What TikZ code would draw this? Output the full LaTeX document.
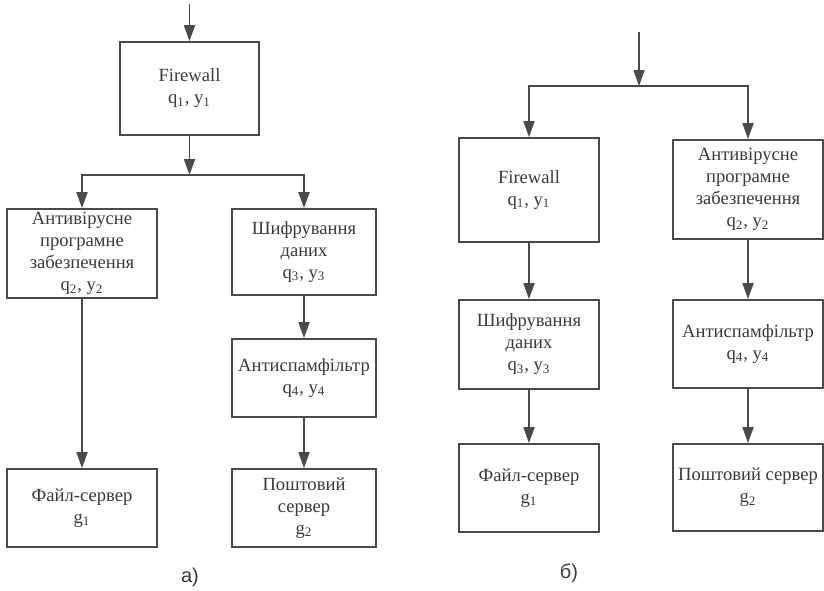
\documentclass[tikz,border=0pt]{standalone}
\usepackage{fontspec}
\setmainfont{Liberation Serif}
\newfontfamily\labfont{Liberation Sans}
\usetikzlibrary{arrows.meta}
\definecolor{linegray}{HTML}{4A4A4A}
\definecolor{textgray}{HTML}{3A3A3A}

\begin{document}
\begin{tikzpicture}[
  x=0.5pt, y=-0.5pt,
  blk/.style={draw=linegray, line width=0.9pt, align=center, inner sep=0pt, font=\fontsize{9.3}{11}\selectfont, text=textgray},
  arr/.style={-{Triangle[length=8pt, width=5.5pt]}, draw=linegray, line width=0.9pt},
  sublabel/.style={font=\labfont\fontsize{10}{12}\selectfont, text=textgray}
]
  \useasboundingbox (0,0) rectangle (824,590);

  % variant a)
  \coordinate (inA) at (189.5,4);
  \coordinate (jA) at (189.5,175);
  \node[blk, minimum width=69.5pt, minimum height=46.5pt] (fwA) at (189.5,88.5) {Firewall\\q\textsubscript{1}, y\textsubscript{1}};
  \node[blk, minimum width=75pt, minimum height=44.5pt] (avA) at (82,253.5) {Антивірусне\\програмне\\забезпечення\\q\textsubscript{2}, y\textsubscript{2}};
  \node[blk, minimum width=72pt, minimum height=43pt] (shA) at (304,252) {Шифрування\\даних\\q\textsubscript{3}, y\textsubscript{3}};
  \node[blk, minimum width=72pt, minimum height=39pt] (asA) at (304,378) {Антиспамфільтр\\q\textsubscript{4}, y\textsubscript{4}};
  \node[blk, minimum width=75pt, minimum height=39pt] (fsA) at (82,508) {Файл-сервер\\g\textsubscript{1}};
  \node[blk, minimum width=72pt, minimum height=39pt] (psA) at (304,508) {Поштовий\\сервер\\g\textsubscript{2}};

  \draw[arr] (inA) -- (fwA);
  \draw[arr] (fwA) -- (jA);
  \draw[arr] (jA) -| (avA);
  \draw[arr] (jA) -| (shA);
  \draw[arr] (avA) -- (fsA);
  \draw[arr] (shA) -- (asA);
  \draw[arr] (asA) -- (psA);

  \node[sublabel] (labA) at (190,577) {а)};

  % variant b)
  \coordinate (inB) at (639,32);
  \coordinate (jB) at (639,86);
  \node[blk, minimum width=70pt, minimum height=52pt] (fwB) at (529,190) {Firewall\\q\textsubscript{1}, y\textsubscript{1}};
  \node[blk, minimum width=75pt, minimum height=49.5pt] (avB) at (748,189.5) {Антивірусне\\програмне\\забезпечення\\q\textsubscript{2}, y\textsubscript{2}};
  \node[blk, minimum width=70pt, minimum height=44.5pt] (shB) at (529,344.5) {Шифрування\\даних\\q\textsubscript{3}, y\textsubscript{3}};
  \node[blk, minimum width=75pt, minimum height=44pt] (asB) at (748,344) {Антиспамфільтр\\q\textsubscript{4}, y\textsubscript{4}};
  \node[blk, minimum width=70pt, minimum height=44pt] (fsB) at (529,488) {Файл-сервер\\g\textsubscript{1}};
  \node[blk, minimum width=75pt, minimum height=43.5pt] (psB) at (748,487.5) {Поштовий сервер\\g\textsubscript{2}};

  \draw[arr] (inB) -- (jB);
  \draw[arr] (jB) -| (fwB);
  \draw[arr] (jB) -| (avB);
  \draw[arr] (fwB) -- (shB);
  \draw[arr] (avB) -- (asB);
  \draw[arr] (shB) -- (fsB);
  \draw[arr] (asB) -- (psB);

  \node[sublabel] (labB) at (569,573) {б)};
\end{tikzpicture}
\end{document}
